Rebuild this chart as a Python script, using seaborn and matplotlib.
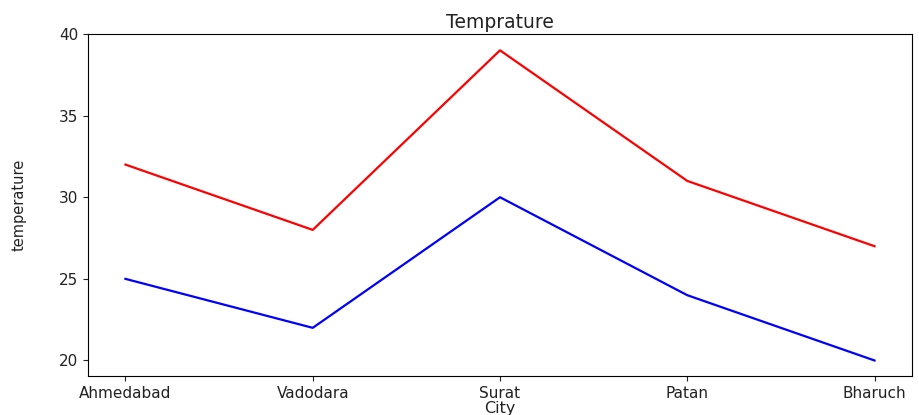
import matplotlib
matplotlib.use("Agg")
import matplotlib.pyplot as plt
import seaborn as sns
import pandas as pd

cities = ["Ahmedabad", "Vadodara", "Surat", "Patan", "Bharuch"]
max_temp = [32, 28, 39, 31, 27]
min_temp = [25, 22, 30, 24, 20]

df = pd.DataFrame({"City": cities, "max": max_temp, "min": min_temp})

fig = plt.figure(figsize=(9.2, 4.15), dpi=100)
ax = fig.add_axes([88/920, 1 - 376/415, (912-88)/920, (376-34)/415])

sns.lineplot(data=df, x="City", y="max", color="red", ax=ax, sort=False, linewidth=1.6)
sns.lineplot(data=df, x="City", y="min", color="blue", ax=ax, sort=False, linewidth=1.6)

ax.set_ylim(19.05, 40)
ax.set_yticks([20, 25, 30, 35, 40])
ax.tick_params(labelsize=11, colors="#222222", labelcolor="#222222")
ax.set_title("Temprature", fontsize=13.5, pad=4, color="#222222")
ax.set_xlabel("City", fontsize=11.5, labelpad=0, color="#222222")
ax.set_ylabel("temperature", fontsize=10.5, color="#222222")
ax.yaxis.set_label_coords(-0.075, 0.5)

fig.savefig("out.png", dpi=100)
